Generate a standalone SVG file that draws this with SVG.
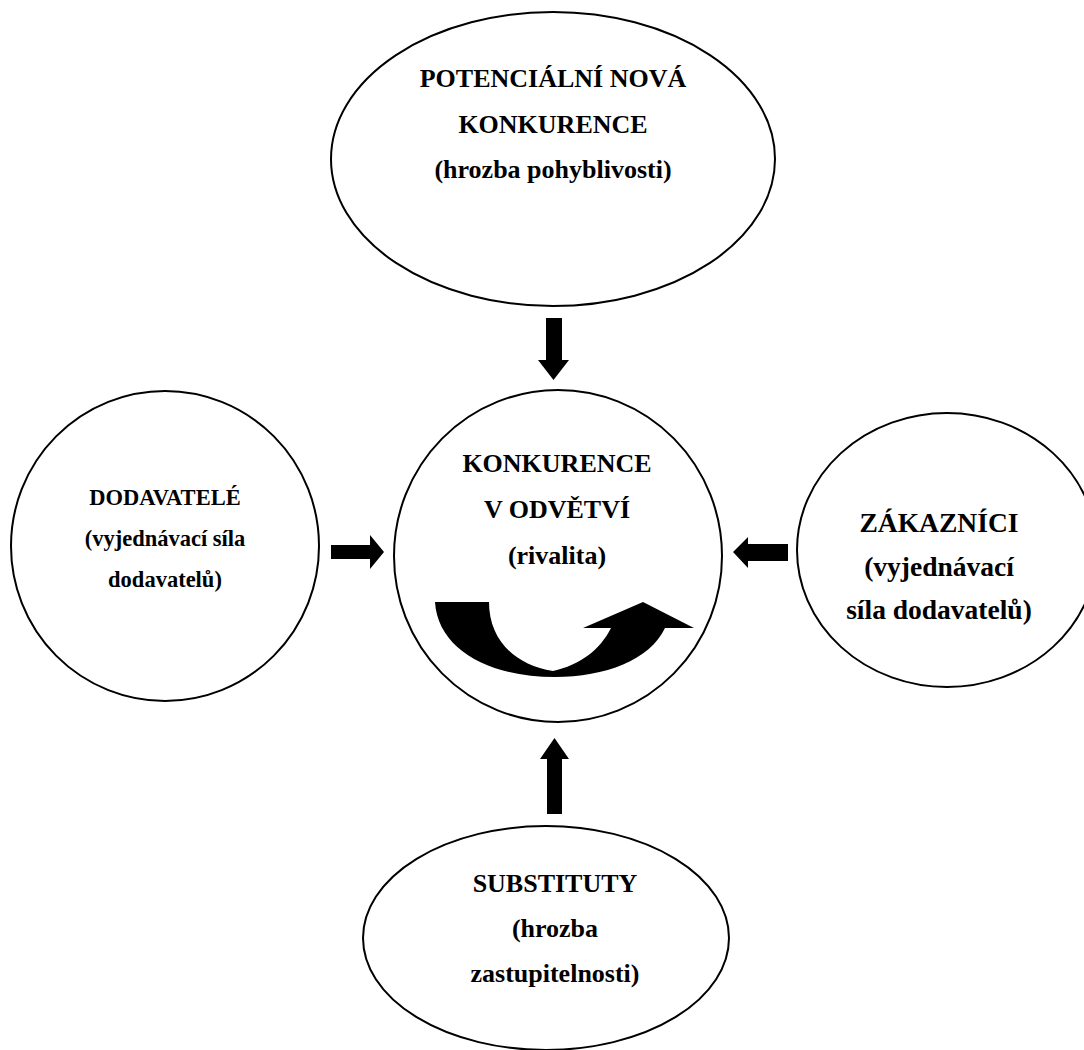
<svg xmlns="http://www.w3.org/2000/svg" width="1084" height="1050" viewBox="0 0 1084 1050">
<style>
.node{fill:#fff;stroke:#000;stroke-width:2}
.t{font-family:"Liberation Serif","Times New Roman",serif;font-weight:bold;fill:#000;text-anchor:middle}
.a{fill:#000;stroke:none}
</style>
<rect width="1084" height="1050" fill="#fff"/>
<g id="connectors">
<polygon class="a" points="546,318 562,318 562,360 569,360 553.5,380 538,360 546,360"/>
<polygon class="a" points="547,814 562,814 562,759 569,759 554.5,738 540,759 547,759"/>
<polygon class="a" points="331,545 370,545 370,535 384,552 370,569 370,559 331,559"/>
<polygon class="a" points="788,544 748,544 748,537 733,552 748,568 748,561 788,561"/>
</g>
<g id="node-potencialni">
<ellipse class="node" cx="553" cy="159" rx="222" ry="147"/>
<text class="t" font-size="26" x="553" y="87">POTENCIÁLNÍ NOVÁ</text>
<text class="t" font-size="26" x="553" y="133">KONKURENCE</text>
<text class="t" font-size="26" x="553" y="178">(hrozba pohyblivosti)</text>
</g>
<g id="node-dodavatele">
<ellipse class="node" cx="165" cy="546" rx="154" ry="155"/>
<text class="t" font-size="22.5" x="165" y="505">DODAVATELÉ</text>
<text class="t" font-size="22.5" x="165" y="546">(vyjednávací síla</text>
<text class="t" font-size="22.5" x="165" y="587">dodavatelů)</text>
</g>
<g id="node-konkurence">
<ellipse class="node" cx="558" cy="556" rx="164" ry="166"/>
<text class="t" font-size="26" x="557" y="472">KONKURENCE</text>
<text class="t" font-size="26" x="557" y="518">V ODVĚTVÍ</text>
<text class="t" font-size="26" x="557" y="564">(rivalita)</text>
<path class="a" d="M435,602 L489,602 C489,640 515,665 553,671 C580,665 600,650 611,628 L583,628 L643,602 L694,628 L665,628 C650,660 605,677 555,677 C490,677 438,650 435,602 Z"/>
</g>
<g id="node-zakaznici">
<ellipse class="node" cx="947" cy="550" rx="150" ry="137"/>
<text class="t" font-size="27.5" x="939" y="532">ZÁKAZNÍCI</text>
<text class="t" font-size="27.5" x="939" y="576">(vyjednávací</text>
<text class="t" font-size="27.5" x="939" y="619">síla dodavatelů)</text>
</g>
<g id="node-substituty">
<ellipse class="node" cx="546" cy="938" rx="183" ry="112"/>
<text class="t" font-size="26" x="555" y="892">SUBSTITUTY</text>
<text class="t" font-size="26" x="555" y="937">(hrozba</text>
<text class="t" font-size="26" x="555" y="982">zastupitelnosti)</text>
</g>
</svg>
